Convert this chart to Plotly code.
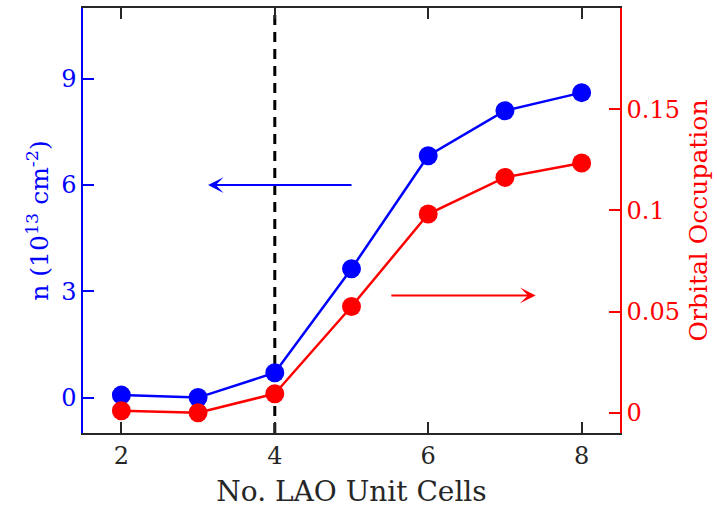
import plotly.graph_objects as go

# LAO thickness (unit cells)
unit_cells = [2, 3, 4, 5, 6, 7, 8]
# Sheet carrier density, in 1e13 cm^-2 (left axis)
carrier_density = [0.07, 0.0, 0.70, 3.64, 6.83, 8.10, 8.61]
# Orbital occupation (right axis)
orbital_occupation = [0.001, 0.0, 0.0094, 0.0525, 0.0982, 0.1163, 0.1234]

x_ticks = [2, 4, 6, 8]
left_ticks = [0, 3, 6, 9]
right_ticks = [0, 0.05, 0.1, 0.15]
right_tick_text = ["0", "0.05", "0.1", "0.15"]
critical_thickness = 4

BLUE = "#0000ff"
RED = "#ff0000"
INK = "#262626"
FONT = "DejaVu Serif"

fig = go.Figure()

fig.add_trace(go.Scatter(
    x=unit_cells, y=carrier_density, mode="lines+markers",
    line=dict(color=BLUE, width=2.5),
    marker=dict(color=BLUE, size=19),
    yaxis="y", showlegend=False,
))
fig.add_trace(go.Scatter(
    x=unit_cells, y=orbital_occupation, mode="lines+markers",
    line=dict(color=RED, width=2.5),
    marker=dict(color=RED, size=19),
    yaxis="y2", showlegend=False,
))

# critical thickness marker
fig.add_shape(
    type="line", x0=critical_thickness, x1=critical_thickness,
    y0=0, y1=1, xref="x", yref="paper",
    line=dict(color="black", width=3, dash="10px,7px"), layer="below",
)

# arrows pointing each curve to its axis
fig.add_annotation(
    x=3.13, y=6.0, ax=5.02, ay=6.0, xref="x", yref="y", axref="x", ayref="y",
    text="", showarrow=True, arrowhead=3, arrowsize=1.3, arrowwidth=2,
    arrowcolor=BLUE,
)
fig.add_annotation(
    x=7.4, y=0.058, ax=5.5, ay=0.058, xref="x", yref="y2", axref="x", ayref="y2",
    text="", showarrow=True, arrowhead=3, arrowsize=1.3, arrowwidth=2,
    arrowcolor=RED,
)

fig.update_layout(
    width=717, height=515,
    margin=dict(l=83, r=97, t=6, b=82),
    plot_bgcolor="white", paper_bgcolor="white",
    font=dict(family=FONT, size=24, color=INK),
    xaxis=dict(
        range=[1.5, 8.5], tickvals=x_ticks, ticks="inside", ticklen=11,
        tickwidth=1.5, tickcolor=INK, showline=True, linecolor=INK,
        linewidth=1.5, mirror="ticks", showgrid=False, zeroline=False,
        tickfont=dict(family=FONT, size=24, color=INK),
        title=dict(text="No. LAO Unit Cells",
                   font=dict(family=FONT, size=28, color=INK), standoff=13),
    ),
    yaxis=dict(
        range=[-1, 11], tickvals=left_ticks, ticks="inside", ticklen=11,
        tickwidth=1.5, tickcolor=BLUE, showline=True, linecolor=BLUE,
        linewidth=1.5, showgrid=False, zeroline=False,
        tickfont=dict(family=FONT, size=24, color=BLUE),
        title=dict(text="n (10<sup>13</sup> cm<sup>-2</sup>)",
                   font=dict(family=FONT, size=25, color=BLUE), standoff=5),
    ),
    yaxis2=dict(
        range=[-0.01, 0.2], tickvals=right_ticks, ticktext=right_tick_text,
        overlaying="y", side="right", ticks="inside", ticklen=11,
        tickwidth=1.5, tickcolor=RED, showline=True, linecolor=RED,
        linewidth=1.5, showgrid=False, zeroline=False,
        tickfont=dict(family=FONT, size=24, color=RED),
        title=dict(text="Orbital Occupation",
                   font=dict(family=FONT, size=25, color=RED), standoff=11),
    ),
)

fig.write_html("out.html")
